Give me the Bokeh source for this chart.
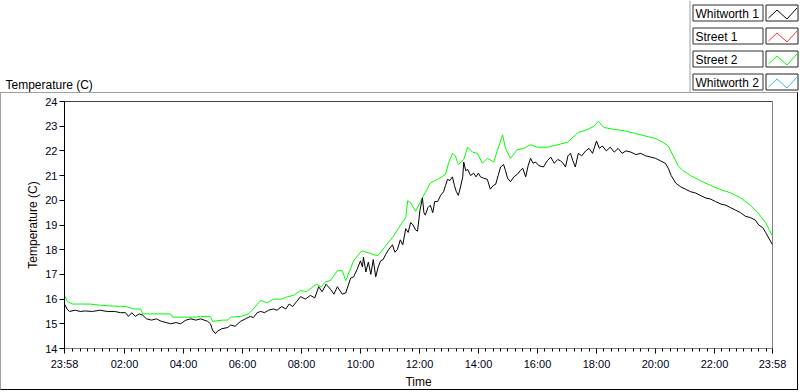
from bokeh.plotting import figure
from bokeh.models import Range1d, FixedTicker, Span
from bokeh.core.properties import value
from bokeh.embed import file_html
from bokeh.resources import INLINE

# ---------------- data ----------------
series_names = ["Whitworth 1", "Street 1", "Street 2", "Whitworth 2"]
series_colors = ["#000000", "#ff3030", "#00ff00", "#33b5ff"]

x_tick_minutes = [-2, 120, 240, 360, 480, 600, 720, 840, 960, 1080, 1200, 1320, 1438]
x_tick_labels = ["23:58", "02:00", "04:00", "06:00", "08:00", "10:00", "12:00",
                 "14:00", "16:00", "18:00", "20:00", "22:00", "23:58"]
y_ticks = [14, 15, 16, 17, 18, 19, 20, 21, 22, 23, 24]

# Whitworth 1 (black): minutes after midnight, temperature (C)
wt1_min = [-2, 3, 8, 20, 30, 40, 55, 70, 85, 100, 112, 122, 128, 135, 142, 150, 157, 165, 175, 185,
           195, 205, 214, 225, 234, 245, 255, 265, 275, 289, 295, 299, 305, 309, 318, 330, 336, 345,
           356, 366, 376, 382, 390, 397, 405, 413, 423, 430, 440, 448, 455, 462, 470, 478, 488, 498,
           507, 515, 522, 530, 539, 546, 553, 563, 570, 580, 586, 593, 600, 604, 606, 611, 616, 621,
           626, 631, 636, 641, 646, 651, 657, 665, 670, 675, 681, 686, 692, 697, 702, 707, 712, 716,
           721, 726, 729, 732, 737, 742, 747, 751, 757, 763, 769, 773, 777, 782, 787, 791, 795, 799,
           803, 808, 810, 814, 818, 824, 830, 835, 840, 844, 850, 858, 864, 870, 875, 880, 885, 891,
           895, 899, 905, 912, 919, 925, 930, 936, 941, 946, 951, 956, 963, 972, 980, 987, 994, 1001,
           1007, 1012, 1017, 1022, 1027, 1032, 1037, 1043, 1050, 1058, 1065, 1072, 1080, 1086, 1092,
           1100, 1108, 1116, 1124, 1132, 1140, 1150, 1160, 1170, 1180, 1190, 1200, 1210, 1220, 1226,
           1232, 1241, 1251, 1261, 1271, 1281, 1291, 1301, 1312, 1322, 1333, 1343, 1353, 1363, 1373,
           1383, 1393, 1403, 1410, 1418, 1424, 1431, 1438]
wt1_temp = [15.8, 15.6, 15.5, 15.55, 15.5, 15.52, 15.5, 15.55, 15.5, 15.5, 15.45, 15.45, 15.3, 15.45,
            15.3, 15.4, 15.35, 15.2, 15.15, 15.2, 15.1, 15.05, 15.0, 15.05, 15.0, 15.15, 15.2, 15.15,
            15.2, 15.1, 15.0, 14.75, 14.6, 14.7, 14.8, 14.85, 14.95, 14.9, 15.1, 15.2, 15.3, 15.25,
            15.45, 15.5, 15.45, 15.55, 15.6, 15.55, 15.7, 15.6, 15.8, 15.7, 15.9, 16.1, 16.0, 16.15,
            16.05, 16.5, 16.3, 16.6, 16.4, 16.2, 16.5, 16.2, 16.25, 16.85, 16.9, 17.2, 17.55, 17.3,
            17.7, 17.1, 17.5, 17.0, 17.6, 16.9, 17.3, 17.55, 17.6, 17.8, 18.0, 18.2, 17.9, 18.0, 18.4,
            18.2, 18.85, 18.7, 19.1, 19.0, 18.8, 18.75, 19.6, 20.1, 19.5, 19.4, 19.7, 19.8, 19.5, 19.95,
            19.95, 20.2, 20.35, 20.6, 20.85, 20.8, 20.95, 20.6, 20.35, 20.2, 20.5, 20.95, 21.55, 21.2,
            21.25, 21.0, 21.1, 20.95, 21.1, 20.95, 20.9, 20.85, 20.45, 20.6, 20.65, 21.0, 21.35, 21.45,
            21.2, 20.9, 20.75, 20.95, 21.05, 21.2, 21.3, 20.95, 21.4, 21.7, 21.5, 21.55, 21.4, 21.35,
            21.6, 21.75, 21.5, 21.65, 21.6, 21.5, 21.35, 21.8, 21.9, 21.6, 21.35, 21.9, 21.8, 22.0,
            22.1, 21.9, 22.4, 22.1, 22.2, 22.0, 22.15, 21.95, 22.1, 21.9, 22.0, 21.95, 21.85, 21.9,
            21.8, 21.75, 21.7, 21.6, 21.5, 21.3, 21.0, 20.7, 20.55, 20.45, 20.35, 20.3, 20.2, 20.1,
            20.05, 19.95, 19.85, 19.8, 19.7, 19.6, 19.5, 19.35, 19.3, 19.2, 19.0, 18.9, 18.7, 18.45, 18.2]

# Street 2 (green)
st2_min = [-2, 4, 14, 30, 50, 71, 95, 122, 140, 153, 157, 180, 214, 218, 264, 275, 295, 299, 320, 330,
           336, 356, 372, 382, 397, 410, 423, 440, 452, 464, 478, 490, 500, 510, 520, 529, 539, 553,
           563, 570, 586, 600, 604, 620, 635, 651, 667, 681, 692, 696, 702, 712, 726, 742, 757, 773,
           779, 787, 793, 799, 810, 818, 828, 838, 848, 858, 871, 879, 889, 895, 905, 919, 932, 946,
           960, 980, 1001, 1021, 1043, 1060, 1075, 1084, 1095, 1108, 1125, 1140, 1160, 1180, 1200,
           1215, 1226, 1236, 1246, 1256, 1271, 1291, 1312, 1330, 1353, 1373, 1393, 1408, 1424, 1438]
st2_temp = [16.15, 15.9, 15.8, 15.8, 15.8, 15.75, 15.72, 15.7, 15.6, 15.6, 15.4, 15.4, 15.4, 15.27,
            15.27, 15.3, 15.3, 15.1, 15.15, 15.15, 15.27, 15.3, 15.4, 15.6, 15.95, 15.85, 16.0, 16.0,
            16.1, 16.15, 16.35, 16.3, 16.45, 16.6, 16.5, 16.7, 16.75, 17.15, 17.15, 16.75, 17.55, 17.9,
            17.95, 17.85, 17.75, 18.15, 18.55, 18.98, 19.3, 19.98, 19.9, 19.55, 20.1, 20.7, 20.85,
            21.05, 21.5, 21.9, 21.8, 21.45, 21.65, 22.15, 21.95, 21.9, 21.5, 21.7, 21.55, 22.05, 22.65,
            22.1, 21.7, 22.05, 22.1, 22.25, 22.15, 22.15, 22.25, 22.35, 22.75, 22.85, 23.0, 23.2,
            22.95, 22.9, 22.85, 22.8, 22.7, 22.6, 22.5, 22.35, 22.2, 21.8, 21.4, 21.2, 21.0, 20.8,
            20.6, 20.45, 20.3, 20.1, 19.8, 19.5, 19.1, 18.55]

FONT = "Liberation Sans"

# ---------------- header strip: title + legend ----------------
TW, TH = 800, 92
top = figure(width=TW, height=TH, output_backend="svg", toolbar_location=None,
             x_range=Range1d(0, TW), y_range=Range1d(TH, 0), min_border=0,
             x_axis_location=None, y_axis_location=None)
top.grid.visible = False
top.outline_line_color = None
top.background_fill_color = "white"
top.border_fill_color = "white"

top.text(x=[5], y=[84], text=["Temperature (C)"], text_font=value(FONT),
         text_font_size="12px", text_color="black", text_baseline="alphabetic")
top.line(x=[689.5, 689.5], y=[0, TH], line_color="#a0a0a0", line_width=1)

row_tops = [4.5, 27.5, 50.5, 73.5]
row_bots = [t + 16 for t in row_tops]
n = len(series_names)
top.quad(left=[692.5] * n, right=[762.5] * n, top=row_tops, bottom=row_bots,
         fill_color="white", line_color="#303030", line_width=1)
top.quad(left=[765.5] * n, right=[797.5] * n, top=row_tops, bottom=row_bots,
         fill_color="white", line_color="#202020", line_width=1)
top.text(x=[695] * n, y=[t + 8.5 for t in row_tops], text=series_names, text_font=value(FONT),
         text_font_size="12px", text_color="black", text_baseline="middle")
L = 765.5
top.multi_line(xs=[[L + 2.5, L + 11, L + 21, L + 31] for _ in row_tops],
               ys=[[t + 13, t + 5, t + 14, t + 3] for t in row_tops],
               line_color=series_colors, line_width=1)

# ---------------- main graph ----------------
p = figure(width=798, height=298, output_backend="svg", toolbar_location=None,
           x_range=Range1d(-2, 1438), y_range=Range1d(14, 24),
           min_border_left=63, min_border_right=27, min_border_top=8, min_border_bottom=39)
p.styles = {"border-left": "1px solid #a0a0a0", "border-top": "1px solid #a0a0a0",
            "border-right": "1px solid #000000", "border-bottom": "1px solid #000000"}
p.background_fill_color = "white"
p.border_fill_color = "white"
p.outline_line_color = "#808080"
p.grid.visible = False

minor = [m for m in range(15, 1438, 15) if m % 120 != 0]
p.xaxis.ticker = FixedTicker(ticks=x_tick_minutes, minor_ticks=minor)
p.xaxis.major_label_overrides = {t: l for t, l in zip(x_tick_minutes, x_tick_labels)}
p.xaxis.axis_line_color = "#808080"
p.xaxis.major_tick_line_color = "black"
p.xaxis.minor_tick_line_color = "black"
p.xaxis.major_tick_in = 0
p.xaxis.major_tick_out = 5
p.xaxis.minor_tick_in = 0
p.xaxis.minor_tick_out = 3
p.xaxis.major_label_standoff = 4
p.xaxis.axis_label = "Time"
p.xaxis.axis_label_standoff = 2

p.yaxis.ticker = FixedTicker(ticks=y_ticks, minor_ticks=[])
p.yaxis.axis_line_color = "black"
p.yaxis.major_tick_in = 0
p.yaxis.major_tick_out = 5
p.yaxis.major_label_standoff = 2
p.yaxis.axis_label = "Temperature (C)"
p.yaxis.axis_label_standoff = 2

for ax in (p.xaxis, p.yaxis):
    ax.major_label_text_font = FONT
    ax.major_label_text_font_size = "11px"
    ax.major_label_text_color = "#000020"
    ax.axis_label_text_font = FONT
    ax.axis_label_text_font_size = "12px"
    ax.axis_label_text_font_style = "normal"
    ax.axis_label_text_color = "#100000"

p.add_layout(Span(location=24, dimension="width", line_color="black", line_width=1))

p.line(st2_min, st2_temp, line_color=series_colors[2], line_width=1)
p.line(wt1_min, wt1_temp, line_color=series_colors[0], line_width=1)

open("out.html", "w").write(file_html([top, p], INLINE))
